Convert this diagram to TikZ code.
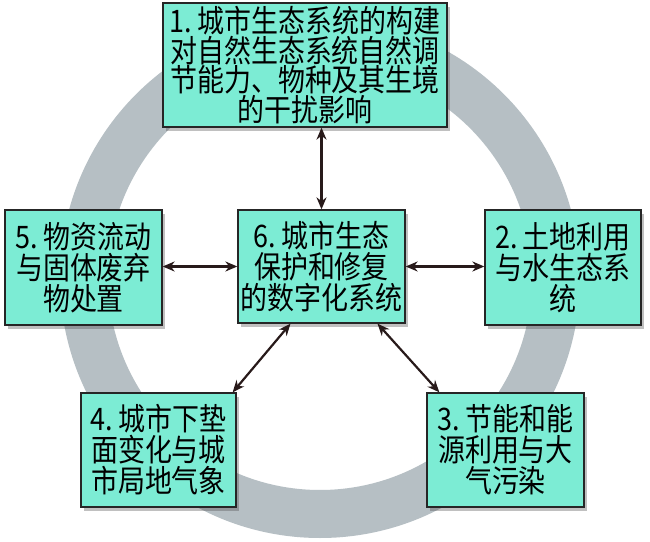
\documentclass[tikz,border=0pt]{standalone}
\usepackage{fontspec}
\setmainfont{Noto Sans CJK SC}[FakeStretch=0.87]
\usetikzlibrary{arrows.meta,shadows}
\definecolor{boxfill}{RGB}{124,236,212}
\definecolor{ringgray}{RGB}{182,191,196}
\definecolor{arrowdark}{RGB}{40,26,26}
\tikzset{
  box/.style={draw=black!85, line width=1.3pt, fill=boxfill, inner sep=0pt, align=center,
    font=\fontsize{31}{31}\selectfont,
    drop shadow={shadow xshift=3pt, shadow yshift=-4pt, opacity=0.35, fill=black!70}},
  dbl/.style={draw=arrowdark, line width=2.2pt,
    {Stealth[length=12pt,width=10pt]}-{Stealth[length=12pt,width=10pt]}}
}
\begin{document}
\begin{tikzpicture}[x=1pt,y=1pt]
\useasboundingbox (0,0) rectangle (650,541);
\fill[white] (0,0) rectangle (650,541);
% ring
\draw[ringgray, line width=48pt] (320,263) circle (236);
% boxes
\node[box, minimum width=284pt, minimum height=124pt, font=\fontsize{31}{28.5}\selectfont] (b1) at (305,476)
  {1.\,城市生态系统的构建\\对自然生态系统自然调\\节能力、物种及其生境\\的干扰影响};
\node[box, minimum width=157pt, minimum height=115pt] (b5) at (83.5,273.5)
  {5.\,物资流动\\与固体废弃\\物处置};
\node[box, minimum width=167pt, minimum height=113pt] (b6) at (321.5,274.5)
  {6.\,城市生态\\保护和修复\\的数字化系统};
\node[box, minimum width=156pt, minimum height=115pt] (b2) at (563,273.5)
  {2.\,土地利用\\与水生态系\\统};
\node[box, minimum width=155pt, minimum height=114pt] (b4) at (158.5,91)
  {4.\,城市下垫\\面变化与城\\市局地气象};
\node[box, minimum width=157pt, minimum height=114pt] (b3) at (505.5,91)
  {3.\,节能和能\\源利用与大\\气污染};
% connectors
\draw[dbl] (b1.south -| b6.north) -- (b6.north);
\draw[dbl] (b5.east |- b6.center) -- (b6.west);
\draw[dbl] (b6.east) -- (b2.west |- b6.east);
\draw[dbl] ([xshift=-31pt]b6.south) -- ([xshift=-4pt]b4.north east);
\draw[dbl] ([xshift=56pt]b6.south) -- ([xshift=13pt]b3.north west);
\end{tikzpicture}
\end{document}
